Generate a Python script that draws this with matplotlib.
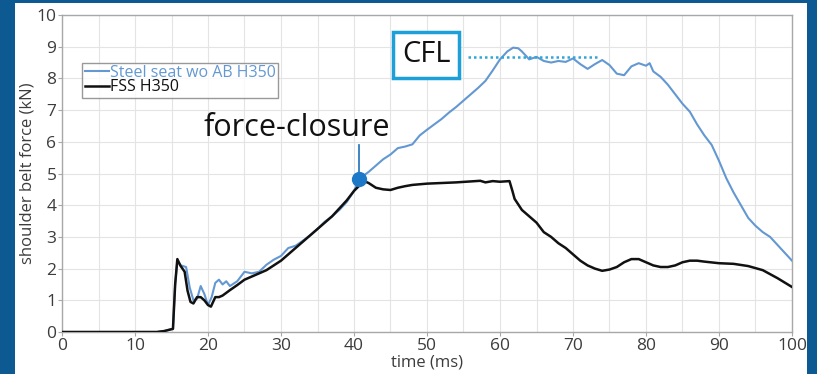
import matplotlib
matplotlib.use("Agg")
import matplotlib.pyplot as plt
from matplotlib.patches import Rectangle

plt.rcParams['font.family'] = ['Open Sans', 'DejaVu Sans']

# Steel seat wo AB H350 (blue)
steel_t = [0, 13, 14, 15.2, 15.5, 15.8, 16.3, 17, 17.5, 18, 18.5, 19, 19.5, 20, 20.5,
           21, 21.5, 22, 22.5, 23, 24, 25, 26, 27, 28, 29, 30, 31, 32, 33, 34, 35, 36,
           37, 38, 39, 40, 40.7, 41, 42, 43, 44, 45, 46, 47, 48, 49, 50, 51, 52, 53, 54,
           55, 56, 57, 58, 59, 60, 61, 61.8, 62.5, 63, 64, 65, 66, 67, 68, 69, 70, 71,
           72, 73, 74, 75, 76, 77, 78, 79, 80, 80.5, 81, 82, 83, 84, 85, 86, 87, 88, 89,
           90, 91, 92, 93, 94, 95, 96, 97, 98, 99, 100]
steel_f = [0, 0, 0.03, 0.1, 1.5, 2.25, 2.1, 2.05, 1.4, 1.0, 1.05, 1.45, 1.2, 0.85, 1.1,
           1.55, 1.65, 1.5, 1.6, 1.45, 1.6, 1.9, 1.85, 1.9, 2.12, 2.28, 2.4, 2.65, 2.72, 2.88,
           3.05, 3.25, 3.48, 3.65, 3.85, 4.1, 4.45, 4.8, 4.88, 5.05, 5.25, 5.45, 5.6, 5.8,
           5.85, 5.92, 6.2, 6.38, 6.55, 6.72, 6.92, 7.1, 7.3, 7.5, 7.7, 7.92, 8.25, 8.6,
           8.85, 8.97, 8.95, 8.85, 8.6, 8.68, 8.55, 8.5, 8.55, 8.52, 8.63, 8.45, 8.3, 8.45,
           8.58, 8.42, 8.15, 8.1, 8.38, 8.48, 8.4, 8.48, 8.22, 8.05, 7.8, 7.5, 7.2, 6.95,
           6.55, 6.2, 5.9, 5.4, 4.85, 4.4, 4.0, 3.6, 3.35, 3.15, 3.0, 2.75, 2.5, 2.25]

# FSS H350 (black)
fss_t = [0, 13, 14, 15.2, 15.5, 15.8, 16.2, 16.8, 17.2, 17.6, 18, 18.5, 19, 19.5, 20,
         20.4, 21, 21.5, 22, 23, 24, 25, 26, 27, 28, 29, 30, 31, 32, 33, 34, 35, 36, 37,
         38, 39, 40, 41, 41.5, 42, 43, 44, 45, 46, 47, 48, 50, 52, 54, 56, 57.3, 58, 59,
         60, 61.3, 61.7, 62, 63, 64, 65, 66, 67, 68, 69, 70, 71, 72, 73, 74, 75, 76, 77,
         78, 79, 80, 81, 82, 83, 84, 85, 86, 87, 88, 90, 92, 94, 96, 98, 100]
fss_f = [0, 0, 0.03, 0.1, 1.5, 2.3, 2.1, 1.9, 1.3, 0.95, 0.9, 1.1, 1.1, 1.0, 0.85,
         0.8, 1.1, 1.1, 1.15, 1.32, 1.48, 1.65, 1.75, 1.85, 1.95, 2.1, 2.25, 2.45, 2.65,
         2.85, 3.05, 3.25, 3.45, 3.65, 3.9, 4.15, 4.45, 4.68, 4.75, 4.7, 4.55, 4.5, 4.48,
         4.55, 4.6, 4.64, 4.68, 4.7, 4.72, 4.75, 4.77, 4.72, 4.76, 4.74, 4.76, 4.45, 4.2,
         3.85, 3.65, 3.45, 3.15, 3.0, 2.8, 2.65, 2.45, 2.25, 2.1, 2.0, 1.93, 1.97, 2.05,
         2.2, 2.3, 2.3, 2.2, 2.1, 2.05, 2.05, 2.1, 2.2, 2.25, 2.25, 2.22, 2.17, 2.15, 2.08,
         1.95, 1.7, 1.42]

closure_point = (40.7, 4.82)
cfl_level = 8.67
cfl_span = (55.6, 73.7)

fig = plt.figure(figsize=(8.17, 3.74), dpi=100)
fig.patch.set_facecolor('#0d5a92')
# white panel on the blue slide background
fig.add_artist(Rectangle((15 / 817, 0), 792 / 817, 371 / 374, transform=fig.transFigure,
                         facecolor='white', edgecolor='none', zorder=0))

ax = fig.add_axes([62 / 817, 42 / 374, 730 / 817, 317 / 374])
ax.set_facecolor('white')

ax.plot(steel_t, steel_f, color='#6398d2', lw=1.5, label='Steel seat wo AB H350', zorder=3)
ax.plot(fss_t, fss_f, color='#111111', lw=1.8, label='FSS H350', zorder=4)

ax.set_xlim(0, 100)
ax.set_ylim(0, 10)
ax.set_xticks(range(0, 101, 10))
ax.set_xticks(range(5, 100, 10), minor=True)
ax.set_yticks(range(0, 11))
ax.grid(True, which='both', color='#e4e4e4', lw=0.8)
ax.set_axisbelow(True)
for s in ax.spines.values():
    s.set_color('#a8a8a8')
    s.set_linewidth(1)
ax.tick_params(axis='both', which='major', length=3, color='#a8a8a8',
               labelsize=12.5, labelcolor='#3c3c3c', pad=1)
ax.tick_params(axis='both', which='minor', length=0)
ax.set_xlabel('time (ms)', fontsize=12, color='#3c3c3c', labelpad=1)
ax.set_ylabel('shoulder belt force (kN)', fontsize=12, color='#3c3c3c', labelpad=1)

leg = ax.legend(loc='upper left', bbox_to_anchor=(0.028, 0.85), fontsize=11.5,
                frameon=True, fancybox=False, handlelength=1.5, handletextpad=0.05,
                borderpad=0.15, labelspacing=-0.1, borderaxespad=0)
leg.get_frame().set_edgecolor('#808080')
leg.get_frame().set_linewidth(1)
leg.get_texts()[0].set_color('#6398d2')
leg.get_texts()[1].set_color('#111111')

# force-closure marker and label
ax.plot([closure_point[0]] * 2, [closure_point[1], 5.9], color='#1e6fb8', lw=1.2, zorder=5)
ax.plot(*closure_point, 'o', color='#1e78c8', ms=10, zorder=6)
ax.text(32.2, 6.45, 'force-closure', fontsize=22, ha='center', va='center', color='#111111')

# CFL label and level
ax.plot(cfl_span, [cfl_level] * 2, color='#2fa6d8', lw=1.8, ls=(0, (1, 1.2)), zorder=5)
ax.text(49.9, 8.74, 'CFL', fontsize=21, ha='center', va='center', color='#111111',
        bbox=dict(boxstyle='square,pad=0.3', fc='white', ec='#1da0d8', lw=2.5))

fig.savefig('out.png', dpi=100, facecolor=fig.get_facecolor())
